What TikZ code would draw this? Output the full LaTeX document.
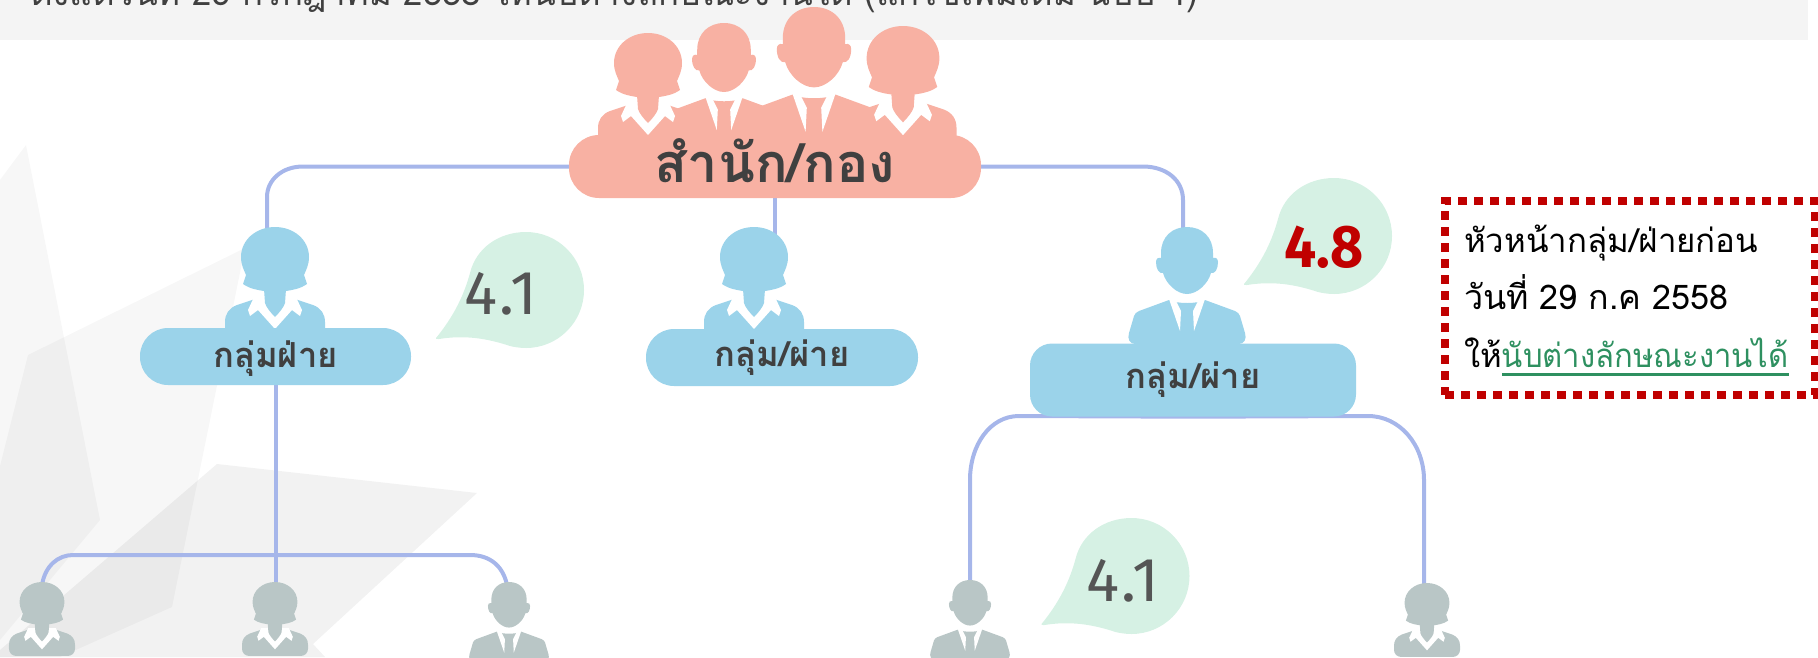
\documentclass[tikz,border=0pt]{standalone}
\usepackage{fontspec}
\setmainfont{Liberation Sans}
\newfontfamily\thai[Script=Thai]{Loma}
\newfontfamily\thainarrow[Script=Thai,FakeStretch=0.94]{Loma}
\newfontfamily\dinf[LetterSpace=3]{Fira Sans}
\newfontfamily\dinb[FakeStretch=0.95]{Fira Sans}
\definecolor{barbg}{HTML}{F4F4F4}
\definecolor{conn}{HTML}{A6B6EA}
\definecolor{skyb}{HTML}{9BD3EA}
\definecolor{salmon}{HTML}{F8B1A3}
\definecolor{mint}{HTML}{D6F1E4}
\definecolor{slate}{HTML}{B9C6C6}
\definecolor{inktext}{HTML}{404040}
\definecolor{dimtext}{HTML}{555555}
\definecolor{redtxt}{HTML}{C00000}
\definecolor{greentxt}{HTML}{2E9060}
\tikzset{
  connline/.style={draw=conn,line width=4pt,line cap=round},
  boxnode/.style={fill=skyb,inner sep=0pt,font=\thai\bfseries\fontsize{34.5}{34.5}\selectfont,text=inktext},
  scorenode/.style={inner sep=0pt,anchor=base,font=\dinf\fontsize{62}{62}\selectfont,text=dimtext},
  bgshape/.style={fill=black,fill opacity=0.03,draw=none}
}
\pgfdeclarelayer{backlayer}
\pgfdeclarelayer{connlayer}
\pgfsetlayers{backlayer,connlayer,main}
\newcommand\ulgreen[1]{\setbox0\hbox{#1}\rlap{\rule[-9pt]{\wd0}{3pt}}\box0}
% name, x, y(top), scale, colour
\newcommand\womanfig[5]{%
\begin{scope}[shift={(#2,#3)},scale=#4]
\coordinate (#1) at (0,0);
\fill[#5] (-20,72) -- (-38,78) .. controls (-46,81) and (-50,87) .. (-50,95)
  [rounded corners=7pt] -- (-50,112) -- (50,112) [sharp corners] -- (50,95)
  .. controls (50,87) and (46,81) .. (38,78) -- (20,72) -- cycle;
\fill[white] (-21,70) -- (-27,83) -- (-25,89) -- (-17,83) -- (0,102) -- (17,83) -- (25,89) -- (27,83) -- (21,70) -- cycle;
\fill[#5] (-11,62) -- (-10,76) .. controls (-9,80) and (-4,86) .. (0,90) .. controls (4,86) and (9,80) .. (10,76) -- (11,62) -- cycle;
\fill[#5] (0,0) .. controls (19,0) and (34,13) .. (34,30) .. controls (34,38) and (31,43) .. (29,48) -- (32,57)
  .. controls (25,62) and (17,63) .. (11,64) -- (-11,64) .. controls (-17,63) and (-25,62) .. (-32,57)
  -- (-29,48) .. controls (-31,43) and (-34,38) .. (-34,30) .. controls (-34,13) and (-19,0) .. (0,0) -- cycle;
\end{scope}}
\newcommand\manfig[5]{%
\begin{scope}[shift={(#2,#3)},scale=#4]
\coordinate (#1) at (0,0);
\fill[#5] (-18,73) -- (-48,84) .. controls (-51,85) and (-52,87) .. (-53,89) -- (-58,106)
  .. controls (-60,112) and (-57,117) .. (-52,117) -- (52,117) .. controls (57,117) and (60,112) .. (58,106)
  -- (53,89) .. controls (52,87) and (51,85) .. (48,84) -- (18,73) .. controls (10,77) and (-10,77) .. (-18,73) -- cycle;
\fill[white] (-18,72) -- (-7,104) -- (-6,84) -- (-11,74) -- cycle;
\fill[white] (18,72) -- (7,104) -- (6,84) -- (11,74) -- cycle;
\fill[#5] (0,0) .. controls (15,0) and (26,10) .. (26,26) -- (26,31) .. controls (29,30) and (31,32) .. (31,35)
  .. controls (31,42) and (28,47) .. (24,46) .. controls (21,57) and (10,67) .. (0,67)
  .. controls (-10,67) and (-21,57) .. (-24,46) .. controls (-28,47) and (-31,42) .. (-31,35)
  .. controls (-31,32) and (-29,30) .. (-26,31) -- (-26,26) .. controls (-26,10) and (-15,0) .. (0,0) -- cycle;
\end{scope}}
\newcommand\bubblefig[2]{%
\fill[mint,shift={(#1,#2)}] (-90,48) .. controls (-72,26) and (-62,5) .. (-56,-17)
  .. controls (-50,-42) and (-27,-58) .. (0,-58) .. controls (32,-58) and (58,-32) .. (58,0)
  .. controls (58,32) and (32,58) .. (0,58) .. controls (-6,58) and (-12,57) .. (-16,56)
  .. controls (-40,48) and (-62,45) .. (-87,49) .. controls (-90,49) and (-91,49) .. (-90,48) -- cycle;}
\begin{document}
\begin{tikzpicture}[x=1pt,y=-1pt]
\useasboundingbox (0,0) rectangle (1818,657);
\begin{pgfonlayer}{backlayer}
% background facets
\fill[bgshape] (0,180) -- (26,145) -- (100,520) -- (0,640) -- cycle;
\fill[bgshape] (28,355) -- (245,248) -- (172,607) -- (60,657) -- (0,657) -- (0,466) -- cycle;
\fill[bgshape,fill opacity=0.05] (217,464) -- (477,493) -- (313,644) -- (325,657) -- (0,657) -- (0,650) -- cycle;
% header bar
\fill[barbg] (0,0) rectangle (1808,40);
\node[anchor=base west,inner sep=0pt,font=\thai\fontsize{34.7}{34.7}\selectfont,text=inktext] (header) at (30,5)
  {ตั้งแต่วันที่ 29 กรกฎาคม 2558 ให้นับต่างลักษณะงานได้ (แก้ไขเพิ่มเติม ฉบับ 4)};
\end{pgfonlayer}
% salmon group
\manfig{om2}{814}{7}{1.2}{salmon}
\manfig{om1}{724}{23}{1.03}{salmon}
\womanfig{ow1}{648}{33}{1}{salmon}
\womanfig{ow2}{903}{26}{1.07}{salmon}
\node[fill=salmon,rounded corners=30pt,minimum width=412pt,inner sep=0pt,text height=47pt,text depth=16pt,font=\thai\bfseries\fontsize{54}{54}\selectfont,text=inktext] (office) at (775,166.5) {สำนัก/กอง};
% blue heads and boxes
\womanfig{hw1}{275}{227}{1}{skyb}
\node[boxnode,rounded corners=28pt,minimum width=271pt,text height=39pt,text depth=18pt] (g1) at (275.5,356.5) {กลุ่มฝ่าย};
\womanfig{hw2}{754}{227}{1}{skyb}
\node[boxnode,rounded corners=28pt,minimum width=272pt,text height=37pt,text depth=20pt] (g2) at (782,357.5) {กลุ่ม/ผ่าย};
\manfig{hm3}{1187}{227}{1}{skyb}
\node[boxnode,rounded corners=22pt,minimum width=326pt,text height=45pt,text depth=28pt] (g3) at (1193,380) {กลุ่ม/ผ่าย};
% grey staff
\womanfig{s1}{42}{582}{0.66}{slate}
\womanfig{s2}{275}{582}{0.66}{slate}
\manfig{s3}{509}{582}{0.68}{slate}
\manfig{s4}{970}{580}{0.68}{slate}
\womanfig{s5}{1427}{583}{0.66}{slate}
% connector ends, just inside the heads
\coordinate (endA) at (267,232);
\coordinate (endB) at (775,240);
\coordinate (endC) at (1183,232);
\coordinate (endD) at (42,585);
\coordinate (endE) at (275.5,590);
\coordinate (endF) at (507,585);
\coordinate (endG) at (970,585);
\coordinate (endH) at (1424,585);
\begin{pgfonlayer}{connlayer}
\draw[connline] (office.west) -- (303,166.5) .. controls (282,166.5) and (267,180) .. (267,197) -- (endA);
\draw[connline] (office.south) -- (endB);
\draw[connline] (office.east) -- (1143,166.5) .. controls (1166,166.5) and (1183,180) .. (1183,200) -- (endC);
\draw[connline] (g1.south) -- (endE);
\draw[connline] (endD) .. controls (45,566) and (58,555) .. (73,555) -- (470,555) .. controls (490,555) and (503,566) .. (endF);
\draw[connline] (endG) -- (970,480) .. controls (970,445) and (990,416) .. (1019,416) -- (g3.south) -- (1368,416) .. controls (1400,416) and (1424,445) .. (1424,480) -- (endH);
\end{pgfonlayer}
% bubbles
\bubblefig{526}{290}
\bubblefig{1334}{236}
\bubblefig{1131.5}{576}
\node[scorenode] (score1) at (501,314) {4.1};
\node[scorenode,font=\dinb\bfseries\fontsize{60}{60}\selectfont,text=redtxt] (score2) at (1324,267) {4.8};
\node[scorenode] (score3) at (1123,601) {4.1};
% note
\node[draw=redtxt,line width=7.5pt,dash pattern=on 9pt off 7pt,minimum height=194pt,inner ysep=0pt,inner xsep=19pt,text width=332pt,align=left,font=\thai\fontsize{33}{57.5}\selectfont,text=black] (note) at (1630,298)
{\rule{0pt}{44pt}หัวหน้ากลุ่ม/ฝ่ายก่อน\\
{\fontsize{34}{57.5}\selectfont วันที่ 29 ก.ค 2558}\\
ให้\textcolor{greentxt}{\thainarrow\ulgreen{นับต่างลักษณะงานได้}}\rule[-21pt]{0pt}{21pt}};
\end{tikzpicture}
\end{document}
